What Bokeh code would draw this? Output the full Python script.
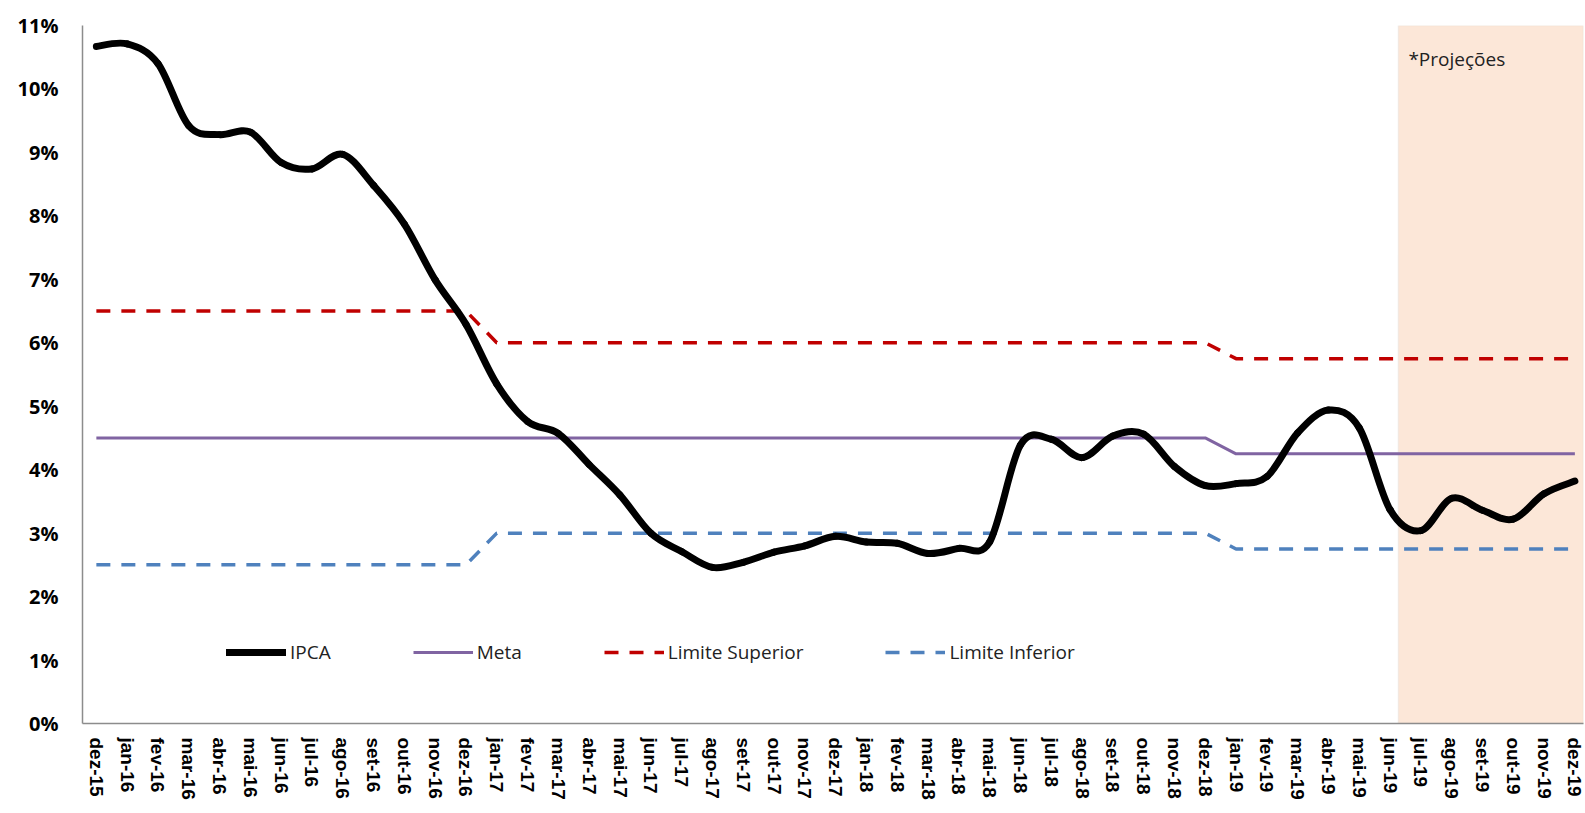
import math
from bokeh.plotting import figure
from bokeh.models import (FixedTicker, Legend, LegendItem, BoxAnnotation, Label,
                          Range1d)
from bokeh.embed import file_html
from bokeh.resources import INLINE

months = ["dez-15", "jan-16", "fev-16", "mar-16", "abr-16", "mai-16", "jun-16", "jul-16",
          "ago-16", "set-16", "out-16", "nov-16", "dez-16", "jan-17", "fev-17", "mar-17",
          "abr-17", "mai-17", "jun-17", "jul-17", "ago-17", "set-17", "out-17", "nov-17",
          "dez-17", "jan-18", "fev-18", "mar-18", "abr-18", "mai-18", "jun-18", "jul-18",
          "ago-18", "set-18", "out-18", "nov-18", "dez-18", "jan-19", "fev-19", "mar-19",
          "abr-19", "mai-19", "jun-19", "jul-19", "ago-19", "set-19", "out-19", "nov-19",
          "dez-19"]

ipca = [10.67, 10.71, 10.40, 9.42, 9.28, 9.32, 8.84, 8.74, 8.97, 8.48, 7.87, 6.99,
        6.29, 5.35, 4.76, 4.57, 4.08, 3.60, 3.00, 2.71, 2.46, 2.54, 2.70, 2.80,
        2.95, 2.86, 2.84, 2.68, 2.76, 2.86, 4.39, 4.48, 4.19, 4.53, 4.56, 4.05,
        3.75, 3.78, 3.89, 4.58, 4.94, 4.66, 3.37, 3.04, 3.55, 3.36, 3.22, 3.62,
        3.82]

meta = [4.5] * 37 + [4.25] * 12
lim_sup = [6.5] * 13 + [6.0] * 24 + [5.75] * 12
lim_inf = [2.5] * 13 + [3.0] * 24 + [2.75] * 12

y_ticks = list(range(0, 12))
y_labels = [f"{v}%" for v in y_ticks]

proj_label = "*Projeções"
proj_start = months.index("jun-19") + 0.27

x = list(range(len(months)))

# smoothed (Excel-style) curve through the IPCA points: Bezier segments
n = len(x)
def pt(i):
    i = max(0, min(n - 1, i))
    return x[i], ipca[i]
x0s, y0s, x1s, y1s, cx0, cy0, cx1, cy1 = [], [], [], [], [], [], [], []
for i in range(n - 1):
    pa, pb, pc, pd = pt(i - 1), pt(i), pt(i + 1), pt(i + 2)
    x0s.append(pb[0]); y0s.append(pb[1])
    x1s.append(pc[0]); y1s.append(pc[1])
    cx0.append(pb[0] + (pc[0] - pa[0]) / 6); cy0.append(pb[1] + (pc[1] - pa[1]) / 6)
    cx1.append(pc[0] - (pd[0] - pb[0]) / 6); cy1.append(pc[1] - (pd[1] - pb[1]) / 6)

p = figure(width=1584, height=812, output_backend="svg", toolbar_location=None,
           x_range=Range1d(-0.45, 48.28), y_range=Range1d(0, 11),
           min_border_left=82, min_border_right=1, min_border_top=25,
           min_border_bottom=89)
p.outline_line_color = None
p.xgrid.grid_line_color = None
p.ygrid.grid_line_color = None
p.background_fill_color = "white"

shade = BoxAnnotation(left=proj_start, fill_color="#FCE7D8", fill_alpha=1.0,
                      line_color="#DDD6D0", line_width=1.5, level="underlay")
p.add_layout(shade)

r_sup = p.line(x, lim_sup, line_color="#C00000", line_width=3.5, line_dash="14 11")
r_inf = p.line(x, lim_inf, line_color="#4F81BD", line_width=3.5, line_dash="14 11")
r_meta = p.line(x, meta, line_color="#8064A2", line_width=3)
r_ipca = p.bezier(x0=x0s, y0=y0s, x1=x1s, y1=y1s, cx0=cx0, cy0=cy0, cx1=cx1, cy1=cy1,
                  line_color="black", line_width=7, line_cap="round")

# axes
p.xaxis.ticker = FixedTicker(ticks=x)
p.xaxis.major_label_overrides = {i: m for i, m in enumerate(months)}
p.xaxis.major_label_orientation = -math.pi / 2
p.xaxis.major_label_text_font = "Liberation Sans"
p.xaxis.major_label_text_font_style = "bold"
p.xaxis.major_label_text_font_size = "19px"
p.xaxis.major_label_text_color = "black"
p.xaxis.major_label_standoff = 14
p.xaxis.major_tick_out = 0
p.xaxis.major_tick_in = 0
p.xaxis.minor_tick_out = 0
p.xaxis.minor_tick_in = 0
p.xaxis.axis_line_color = "#8C8C8C"
p.xaxis.axis_line_width = 1.5

p.yaxis.ticker = FixedTicker(ticks=y_ticks)
p.yaxis.major_label_overrides = {v: l for v, l in zip(y_ticks, y_labels)}
p.yaxis.major_label_text_font = "Open Sans"
p.yaxis.major_label_text_font_style = "bold"
p.yaxis.major_label_text_font_size = "20px"
p.yaxis.major_label_text_color = "black"
p.yaxis.major_label_standoff = 24
p.yaxis.major_tick_out = 0
p.yaxis.major_tick_in = 0
p.yaxis.minor_tick_out = 0
p.yaxis.minor_tick_in = 0
p.yaxis.axis_line_color = "#8C8C8C"
p.yaxis.axis_line_width = 1.5

p.add_layout(Label(x=proj_start, y=10.67, x_offset=10, text=proj_label,
                   text_font="Open Sans", text_font_size="19px",
                   text_color="#222222", text_baseline="top"))

legend = Legend(items=[LegendItem(label="IPCA", renderers=[r_ipca]),
                       LegendItem(label="Meta", renderers=[r_meta]),
                       LegendItem(label="Limite Superior", renderers=[r_sup]),
                       LegendItem(label="Limite Inferior", renderers=[r_inf])],
                orientation="horizontal", location=(144, 58),
                glyph_width=60, glyph_height=20, label_standoff=4, spacing=82,
                padding=0, margin=0, border_line_color=None,
                background_fill_alpha=0, label_text_font="Open Sans",
                label_text_font_size="19px", label_text_color="#222222")
p.add_layout(legend, "center")

open("out.html", "w").write(file_html(p, INLINE))
